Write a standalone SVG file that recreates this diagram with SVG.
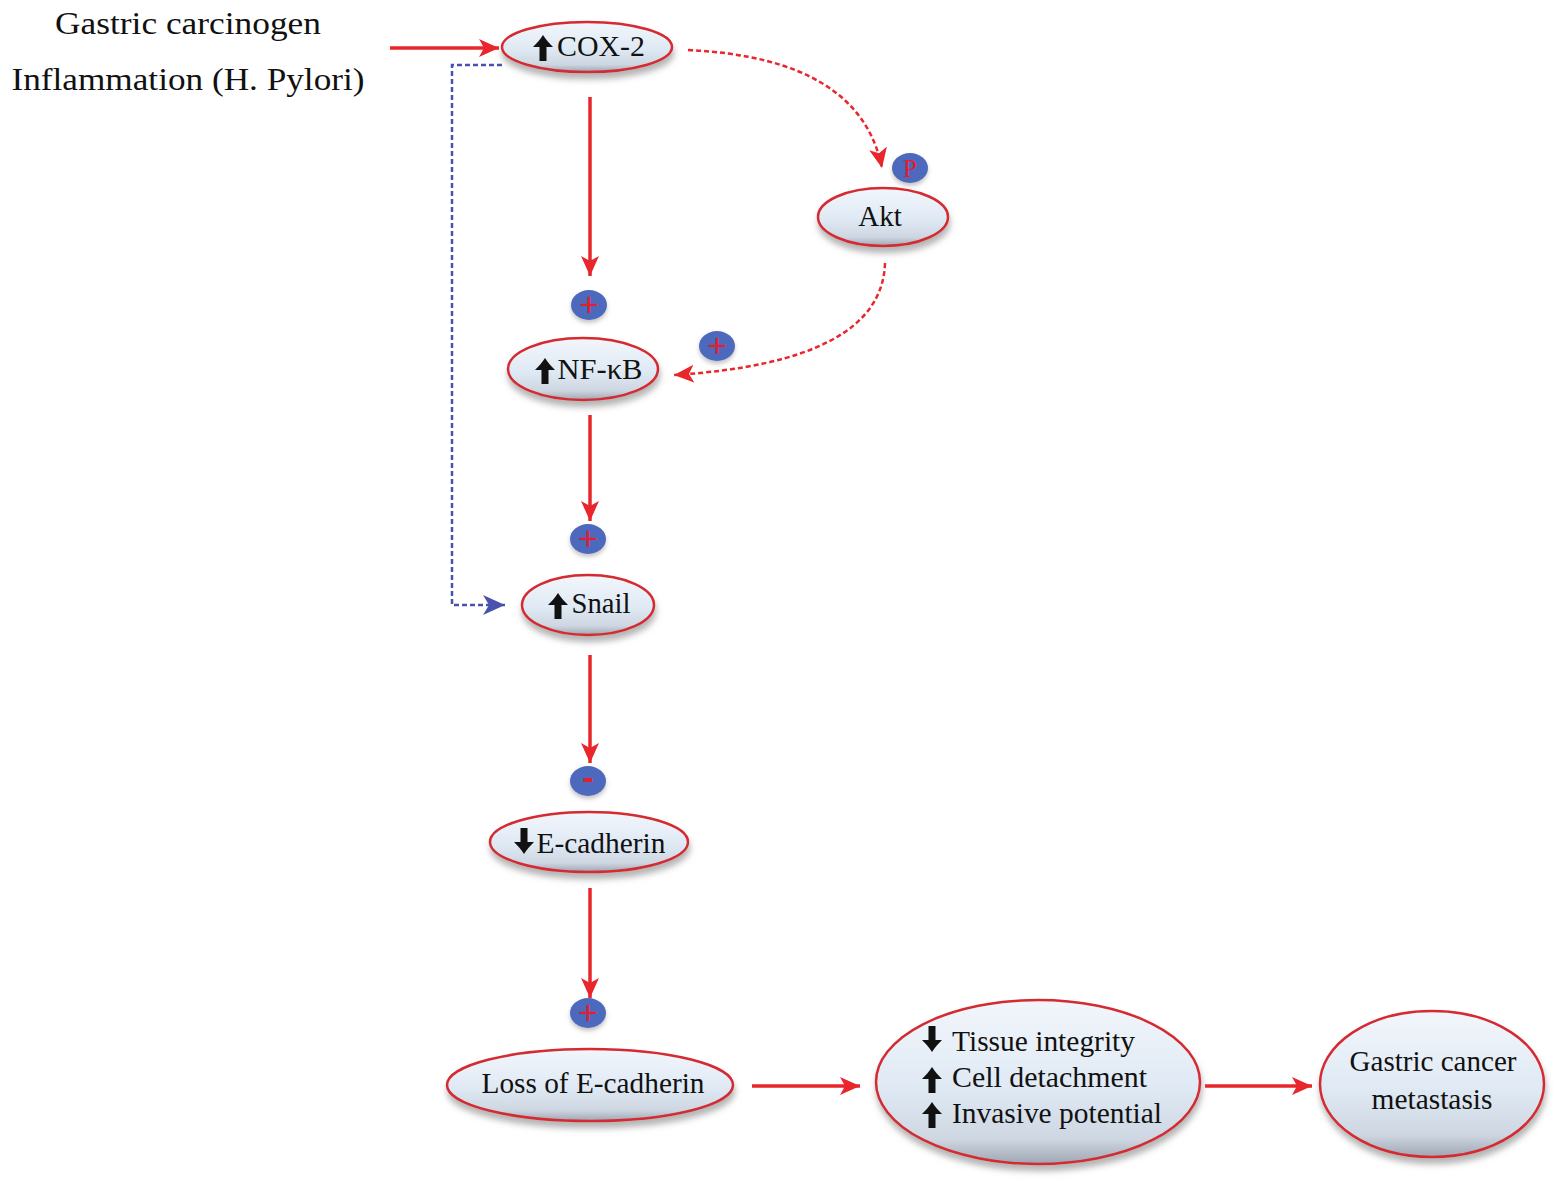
<svg xmlns="http://www.w3.org/2000/svg" width="1559" height="1182" viewBox="0 0 1559 1182">
<style>
.lbl{font-family:"Liberation Serif","Times New Roman",serif;font-size:29px;fill:#111;text-anchor:middle}
.src{font-family:"Liberation Serif","Times New Roman",serif;font-size:31px;fill:#111;text-anchor:middle}
.node{fill:url(#ng);stroke:#d42a30;stroke-width:2.5;filter:url(#sh)}
.dot{fill:#4e69bd;filter:url(#sh2)}
.sgn{font-family:"Liberation Sans",Arial,sans-serif;font-size:34px;fill:#e0202a;text-anchor:middle}
.ln{stroke:#e8262b;stroke-width:3.5;fill:none;marker-end:url(#ar)}
.dr{stroke:#e8262b;stroke-width:2.5;stroke-dasharray:5 3;fill:none;marker-end:url(#ar)}
.db{stroke:#4a52ad;stroke-width:2.5;stroke-dasharray:5 3;fill:none;marker-end:url(#ab)}
</style>
<defs>
<linearGradient id="ng" x1="0" y1="0" x2="0" y2="1">
<stop offset="0" stop-color="#f2f6fb"/>
<stop offset="0.55" stop-color="#dfe9f4"/>
<stop offset="0.85" stop-color="#cdd6e1"/>
<stop offset="1" stop-color="#9ea6b2"/>
</linearGradient>
<filter id="sh" x="-20%" y="-30%" width="140%" height="170%">
<feDropShadow dx="1" dy="6" stdDeviation="3" flood-color="#777" flood-opacity="0.55"/>
</filter>
<filter id="sh2" x="-40%" y="-40%" width="180%" height="200%">
<feDropShadow dx="0" dy="3" stdDeviation="2" flood-color="#888" flood-opacity="0.5"/>
</filter>
<marker id="ar" markerUnits="userSpaceOnUse" markerWidth="22" markerHeight="20" refX="20" refY="9" orient="auto">
<path d="M0,0 L20,9 L0,18 L5,9 Z" fill="#e8262b"/>
</marker>
<marker id="ab" markerUnits="userSpaceOnUse" markerWidth="24" markerHeight="22" refX="22" refY="10" orient="auto">
<path d="M0,0 L22,10 L0,20 L6,10 Z" fill="#4a52ad"/>
</marker>
<path id="up" d="M0,-13 C3,-8 7,-4 10,-1 L3.5,-1 L3.5,13 L-3.5,13 L-3.5,-1 L-10,-1 C-7,-4 -3,-8 0,-13 Z" fill="#111"/>
</defs>

<g id="connectors">
<path class="ln" d="M390,48 L499,48"/>
<path class="ln" d="M590,97 L590,276"/>
<path class="ln" d="M590,415 L590,521"/>
<path class="ln" d="M590,655 L590,763"/>
<path class="ln" d="M590,888 L590,998"/>
<path class="ln" d="M752,1086 L860,1086"/>
<path class="ln" d="M1205,1086 L1312,1086"/>
<path class="dr" d="M688,50 Q860,58 882,168"/>
<path class="dr" d="M885,263 Q882,362 674,375"/>
<path class="db" d="M502,65 L452,65 L452,605 L505,605"/>
</g>

<g id="source">
<text class="src" x="188" y="34" textLength="266" lengthAdjust="spacingAndGlyphs">Gastric carcinogen</text>
<text class="src" x="188" y="90" textLength="353" lengthAdjust="spacingAndGlyphs">Inflammation (H. Pylori)</text>
</g>

<g id="cox2">
<ellipse class="node" cx="587" cy="47" rx="85" ry="25"/>
<use href="#up" x="543" y="48"/>
<text class="lbl" x="601" y="56" textLength="88" lengthAdjust="spacingAndGlyphs">COX-2</text>
</g>

<g id="akt">
<ellipse class="node" cx="883" cy="217" rx="65" ry="29"/>
<text class="lbl" x="880" y="226">Akt</text>
</g>
<g id="p-badge">
<ellipse class="dot" cx="910" cy="168" rx="18" ry="15"/>
<text x="910" y="177" font-family="Liberation Serif, serif" font-size="25" fill="#e0202a" text-anchor="middle">P</text>
</g>

<g id="plus1">
<ellipse class="dot" cx="589" cy="305" rx="18" ry="15"/>
<text class="sgn" x="589" y="316">+</text>
</g>
<g id="plus2">
<ellipse class="dot" cx="717" cy="346" rx="18" ry="15"/>
<text class="sgn" x="717" y="357">+</text>
</g>

<g id="nfkb">
<ellipse class="node" cx="583" cy="369" rx="75" ry="31"/>
<use href="#up" x="545" y="371"/>
<text class="lbl" x="600" y="379" textLength="85" lengthAdjust="spacingAndGlyphs">NF-κB</text>
</g>

<g id="plus3">
<ellipse class="dot" cx="588" cy="539" rx="18" ry="15"/>
<text class="sgn" x="588" y="550">+</text>
</g>

<g id="snail">
<ellipse class="node" cx="588" cy="605" rx="66" ry="30"/>
<use href="#up" x="558" y="606"/>
<text class="lbl" x="601" y="613" textLength="59" lengthAdjust="spacingAndGlyphs">Snail</text>
</g>

<g id="minus">
<ellipse class="dot" cx="588" cy="781" rx="18" ry="15"/>
<text class="sgn" x="588" y="789" font-weight="bold" font-size="30">-</text>
</g>

<g id="ecadherin">
<ellipse class="node" cx="589" cy="842" rx="99" ry="30"/>
<use href="#up" transform="translate(524,841) rotate(180)"/>
<text class="lbl" x="601" y="853" textLength="129" lengthAdjust="spacingAndGlyphs">E-cadherin</text>
</g>

<g id="plus4">
<ellipse class="dot" cx="588" cy="1013" rx="18" ry="15"/>
<text class="sgn" x="588" y="1024">+</text>
</g>

<g id="loss">
<ellipse class="node" cx="590" cy="1085" rx="143" ry="36"/>
<text class="lbl" x="593" y="1093" textLength="223" lengthAdjust="spacingAndGlyphs">Loss of E-cadherin</text>
</g>

<g id="effects">
<ellipse class="node" cx="1038" cy="1082" rx="162" ry="82"/>
<use href="#up" transform="translate(932,1039) rotate(180)"/>
<use href="#up" x="932" y="1080"/>
<use href="#up" x="932" y="1115"/>
<text class="lbl" x="952" y="1051" style="text-anchor:start" textLength="183" lengthAdjust="spacingAndGlyphs">Tissue integrity</text>
<text class="lbl" x="952" y="1087" style="text-anchor:start" textLength="195" lengthAdjust="spacingAndGlyphs">Cell detachment</text>
<text class="lbl" x="952" y="1123" style="text-anchor:start" textLength="210" lengthAdjust="spacingAndGlyphs">Invasive potential</text>
</g>

<g id="metastasis">
<ellipse class="node" cx="1432" cy="1084" rx="112" ry="73"/>
<text class="lbl" x="1433" y="1071" textLength="167" lengthAdjust="spacingAndGlyphs">Gastric cancer</text>
<text class="lbl" x="1432" y="1109" textLength="121" lengthAdjust="spacingAndGlyphs">metastasis</text>
</g>
</svg>
